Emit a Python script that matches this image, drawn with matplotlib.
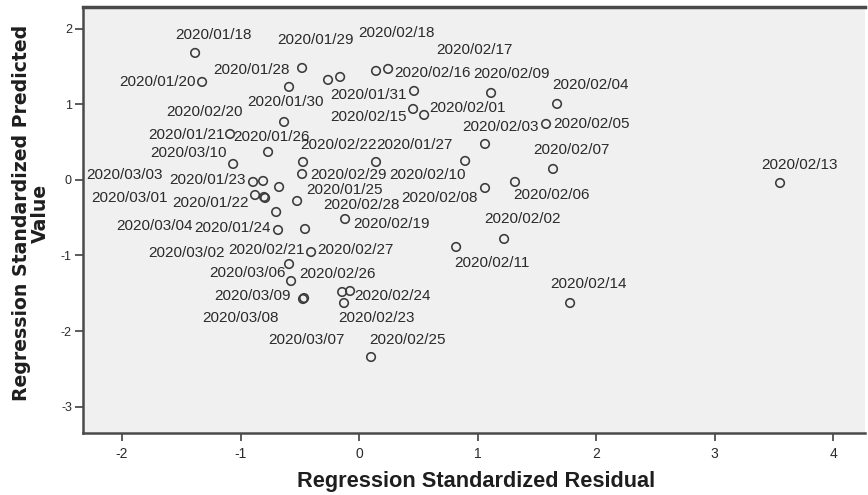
import matplotlib
matplotlib.use('Agg')
import matplotlib.pyplot as plt
from matplotlib import font_manager as fm

# ---- data ----
dates = ["2020/01/18", "2020/01/20", "2020/01/28", "2020/01/30", "2020/01/29",
         "2020/02/18", "2020/02/17", "2020/02/16", "2020/01/31", "2020/02/09",
         "2020/02/04", "2020/02/15", "2020/02/01", "2020/02/20", "2020/01/21",
         "2020/01/26", "2020/02/05", "2020/02/03", "2020/03/10", "2020/02/22",
         "2020/01/27", "2020/02/10", "2020/02/07", "2020/02/29", "2020/03/03",
         "2020/01/23", "2020/02/28", "2020/02/06", "2020/02/13", "2020/03/01",
         "2020/01/22", "2020/01/25", "2020/02/08", "2020/03/04", "2020/02/19",
         "2020/01/24", "2020/02/21", "2020/02/02", "2020/02/11", "2020/02/27",
         "2020/03/06", "2020/02/26", "2020/03/09", "2020/02/24", "2020/03/07",
         "2020/02/23", "2020/02/25", "2020/02/14", "2020/03/02", "2020/03/08"]

residual = [-1.384, -1.325, -0.481, -0.591, -0.262,
            -0.160, 0.143, 0.245, 0.464, 1.114,
            1.671, 0.456, 0.549, -0.633, -1.089,
            -0.768, 1.578, 1.063, -1.063, -0.473,
            0.143, 0.895, 1.637, -0.481, -0.895,
            -0.810, -0.675, 1.316, 3.553, -0.878,
            -0.802, -0.523, 1.063, -0.700, -0.118,
            -0.684, -0.456, 1.224, 0.819, -0.405,
            -0.591, -0.574, -0.473, -0.076, -0.143,
            -0.127, 0.101, 1.781, -0.793, -0.464]

predicted = [1.682, 1.298, 1.483, 1.232, 1.325,
             1.364, 1.444, 1.470, 1.179, 1.152,
             1.007, 0.940, 0.861, 0.768, 0.609,
             0.371, 0.742, 0.477, 0.212, 0.238,
             0.238, 0.252, 0.146, 0.079, -0.026,
             -0.013, -0.093, -0.026, -0.040, -0.199,
             -0.225, -0.278, -0.106, -0.424, -0.517,
             -0.662, -0.649, -0.781, -0.887, -0.954,
             -1.113, -1.338, -1.576, -1.470, -1.483,
             -1.629, -2.344, -1.629, -0.238, -1.563]

x_ticks = [-2, -1, 0, 1, 2, 3, 4]
y_ticks = [-3, -2, -1, 0, 1, 2]
x_title = "Regression Standardized Residual"
y_title = "Regression Standardized Predicted\nValue"

# label placement (pixel offsets of each label centre from its point)
label_offsets = [(18, 18), (-45, 0), (-51, -2), (-4, -15), (-13, 40),
                 (56, 44), (98, 21), (44, -4), (-46, -4), (20, 19),
                 (33, 19), (-45, -8), (43, 7), (-80, 10), (-44, -1),
                 (3, 15), (45, 0), (15, 17), (-45, 11), (35, 17),
                 (38, 17), (-38, -14), (18, 19), (46, -1), (-129, 7),
                 (-56, 1), (82, -18), (37, -13), (19, 18), (-126, -3),
                 (-54, -6), (47, 11), (-46, -10), (-122, -14), (46, -5),
                 (-46, 2), (-39, -21), (18, 20), (36, -16), (44, 2),
                 (-42, -9), (46, 7), (-51, 3), (42, -5), (-36, -48),
                 (32, -15), (36, 17), (18, 19), (-79, -55), (-64, -20)]

# ---- fonts ----
names = {f.name for f in fm.fontManager.ttflist}
narrow = 'Liberation Sans Narrow' if 'Liberation Sans Narrow' in names else 'Liberation Sans'
text_col = '#2a2a2a'

W, H = 868, 495
fig = plt.figure(figsize=(W / 100, H / 100), dpi=100)
fig.patch.set_facecolor('white')
ax = fig.add_axes([83 / W, 1 - 433 / H, (865 - 83) / W, (433 - 7) / H])
ax.set_facecolor('#F0F0F0')

ax.scatter(residual, predicted, s=38, facecolors='none',
           edgecolors='#3a3a3a', linewidths=1.15, zorder=3)

for d, x, y, (dx, dy) in zip(dates, residual, predicted, label_offsets):
    ax.annotate(d, (x, y), xytext=(dx, dy), textcoords='offset pixels',
                ha='center', va='center', fontsize=11.0,
                family='Liberation Sans', color=text_col, zorder=4)

ax.set_xlim(-2.33, 4.27)
ax.set_ylim(-3.35, 2.29)
ax.set_xticks(x_ticks)
ax.set_yticks(y_ticks)
ax.set_xticklabels([str(v) for v in x_ticks], family=narrow, fontsize=10, color=text_col)
ax.set_yticklabels([str(v) for v in y_ticks], family='Liberation Sans', fontsize=9, color=text_col)
ax.tick_params(axis='both', length=6, width=1.2, color='#404040', pad=2)
ax.tick_params(axis='x', pad=4)

for side in ['top', 'left', 'bottom']:
    ax.spines[side].set_color('#4a4a4a')
ax.spines['top'].set_linewidth(2.5)
ax.spines['left'].set_linewidth(1.8)
ax.spines['bottom'].set_linewidth(1.8)
ax.spines['right'].set_visible(False)

xt = fig.text(476 / W, 1 - 481 / H, x_title, ha='center', va='center',
              family=narrow, fontweight='bold', fontsize=15, color='#1e1e1e')
yt = fig.text(31 / W, 1 - 213 / H, y_title, ha='center', va='center',
              rotation=90, family='DejaVu Sans', fontweight='bold', fontsize=13,
              color='#1e1e1e', linespacing=1.0, multialignment='center')

fig.canvas.draw()
r = fig.canvas.get_renderer()
bb = xt.get_window_extent(r)
xt.set_fontsize(xt.get_fontsize() * 359 / bb.width)
bb = yt.get_window_extent(r)
yt.set_fontsize(yt.get_fontsize() * 373 / bb.height)

fig.savefig('out.png', dpi=100)
